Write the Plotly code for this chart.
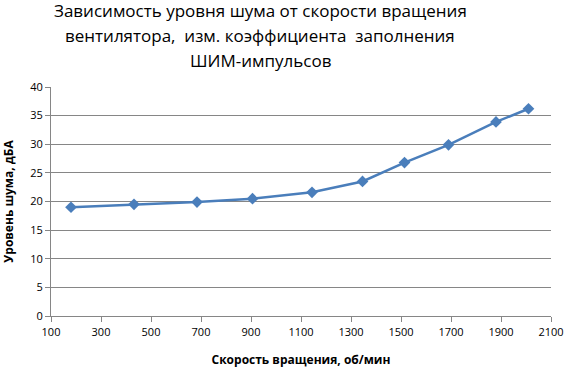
import plotly.graph_objects as go

speed = [180, 432, 684, 906, 1144, 1346, 1514, 1690, 1880, 2010]
noise = [19.0, 19.5, 19.9, 20.5, 21.6, 23.5, 26.8, 29.9, 33.9, 36.2]

x_ticks = list(range(100, 2101, 200))
y_ticks = list(range(0, 41, 5))

title_lines = ["Зависимость уровня шума от скорости вращения",
               "вентилятора,  изм. коэффициента  заполнения",
               "ШИМ-импульсов"]

fig = go.Figure()
fig.add_trace(go.Scatter(
    x=speed, y=noise, mode="lines+markers",
    line=dict(color="#4A7EBB", width=2.5),
    marker=dict(symbol="diamond", size=9, color="#4A7EBB"),
    showlegend=False,
))

font_family = "Open Sans, Noto Sans, sans-serif"
H, T, B = 368, 87, 52
plot_h = H - T - B

fig.update_layout(
    width=565, height=H,
    paper_bgcolor="white", plot_bgcolor="white",
    margin=dict(l=51, r=14, t=T, b=B, autoexpand=False),
    font=dict(family=font_family, size=11, color="black"),
)
for i, line in enumerate(title_lines):
    py = 11 + 24.5 * i
    fig.add_annotation(
        text=line, xref="paper", yref="paper", x=0.418, y=(H - B - py) / plot_h,
        xanchor="center", yanchor="middle", showarrow=False, align="center",
        font=dict(family=font_family, size=17, color="black"),
    )
fig.update_xaxes(
    range=[100, 2100], tickvals=x_ticks, ticktext=[str(v) for v in x_ticks],
    showgrid=False, showline=True, linecolor="#868686", linewidth=1,
    ticks="outside", ticklen=5, tickcolor="#868686", ticklabelstandoff=1,
    tickfont=dict(size=11), zeroline=False, automargin=False,
    title=dict(text="<b>Скорость вращения, об/мин</b>", font=dict(size=12), standoff=17),
)
fig.update_yaxes(
    range=[0, 40], tickvals=y_ticks,
    showgrid=True, gridcolor="#868686", gridwidth=1,
    showline=True, linecolor="#868686", linewidth=1,
    ticks="outside", ticklen=5, tickcolor="#868686",
    tickfont=dict(size=11), zeroline=False, automargin=False,
    title=dict(text="<b>Уровень шума, дБА</b>", font=dict(size=12), standoff=14),
)

fig.write_html("out.html", config={"displayModeBar": False},
               post_script="document.body.style.margin='0';")
